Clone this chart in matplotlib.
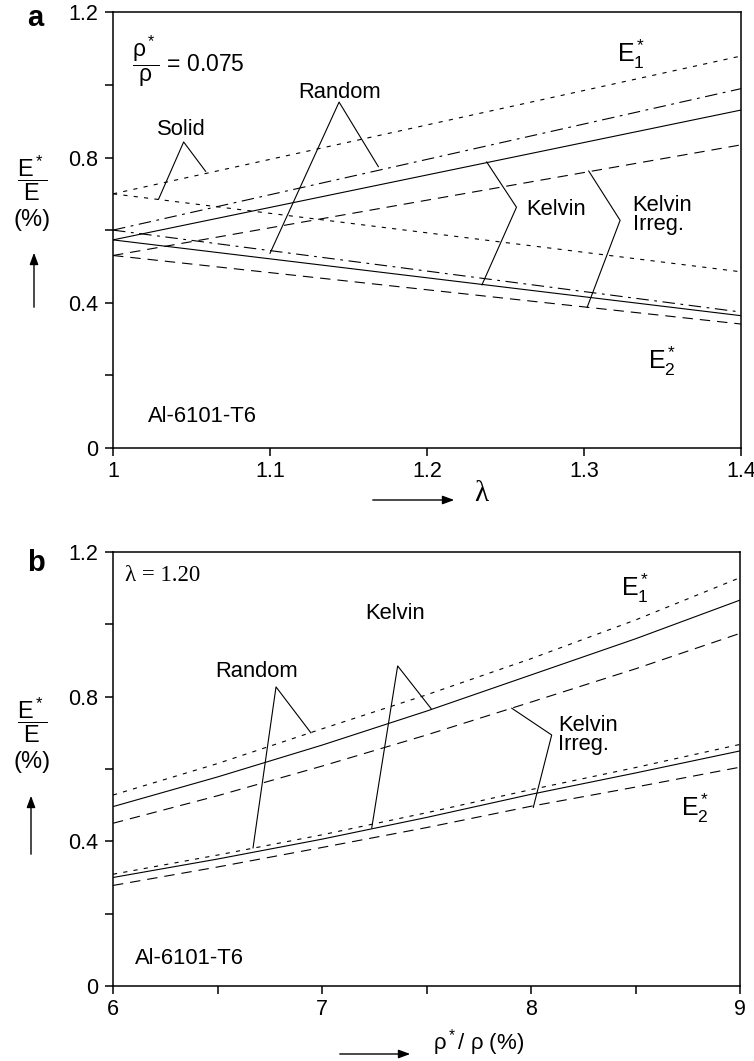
"""
Moduli E1*, E2* of Al-6101-T6 foams: (a) vs anisotropy, (b) vs relative density
"""
import matplotlib
matplotlib.use("Agg")
import matplotlib.pyplot as plt
from matplotlib.ticker import FixedLocator, FixedFormatter

plt.rcParams['font.family'] = ['Liberation Sans', 'DejaVu Sans']
plt.rcParams['mathtext.fontset'] = 'custom'
plt.rcParams['mathtext.rm'] = 'Liberation Sans'
plt.rcParams['mathtext.it'] = 'Liberation Sans'
plt.rcParams['lines.scale_dashes'] = False

W, H = 754, 1061

# panel a: moduli vs anisotropy ratio lambda (rho*/rho = 0.075)
lam = [1.0, 1.4]
solid_e1 = [0.70, 1.08]
solid_e2 = [0.70, 0.485]
random_e1 = [0.60, 0.99]
random_e2 = [0.60, 0.374]
kelvin_e1 = [0.573, 0.931]
kelvin_e2 = [0.573, 0.364]
irreg_e1 = [0.530, 0.835]
irreg_e2 = [0.530, 0.341]

# panel b: moduli vs relative density (lambda = 1.20)
rel_density = [6, 6.5, 7, 7.5, 8, 8.5, 9]
b_random_e1 = [0.528, 0.615, 0.711, 0.805, 0.905, 1.012, 1.129]
b_kelvin_e1 = [0.496, 0.578, 0.666, 0.760, 0.860, 0.960, 1.067]
b_irreg_e1 = [0.450, 0.526, 0.608, 0.694, 0.785, 0.877, 0.975]
b_random_e2 = [0.309, 0.362, 0.418, 0.479, 0.543, 0.604, 0.668]
b_kelvin_e2 = [0.300, 0.351, 0.406, 0.466, 0.530, 0.589, 0.650]
b_irreg_e2 = [0.278, 0.329, 0.383, 0.438, 0.497, 0.550, 0.605]

y_ticks = [0, 0.2, 0.4, 0.6, 0.8, 1.0, 1.2]
y_labels = ['0', '', '0.4', '', '0.8', '', '1.2']
a_xticks = [1.0, 1.1, 1.2, 1.3, 1.4]
a_xlabels = ['1', '1.1', '1.2', '1.3', '1.4']
b_xticks = [6, 6.5, 7, 7.5, 8, 8.5, 9]
b_xlabels = ['6', '', '7', '', '8', '', '9']

# leader lines (data coords of the callout polylines)
a_solid_lead = ([1.029, 1.045, 1.059], [0.685, 0.843, 0.762])
a_random_lead = ([1.100, 1.144, 1.169], [0.536, 0.953, 0.775])
a_kelvin_lead = ([1.238, 1.257, 1.235], [0.788, 0.663, 0.449])
a_irreg_lead = ([1.303, 1.323, 1.302], [0.763, 0.627, 0.387])
b_random_lead = ([6.670, 6.780, 6.947], [0.382, 0.827, 0.700])
b_kelvin_lead = ([7.238, 7.362, 7.522], [0.437, 0.885, 0.767])
b_irreg_lead = ([7.908, 8.099, 8.011], [0.768, 0.694, 0.494])

DOT = (0, (3, 4.5))
DASHDOT = (0, (9, 4, 2, 4))
DASH = (0, (7.5, 5))
LW = 0.8
FS = 15.8      # annotation text
TFS = 15.5     # tick labels
EFS = 18       # E1*, E2* labels


def fx(px):
    return px / W


def fy(py):
    return 1 - py / H


def style_axes(ax, xticks, xlabels, xlim):
    ax.set_xlim(*xlim)
    ax.set_ylim(0, 1.2)
    ax.xaxis.set_major_locator(FixedLocator(xticks))
    ax.xaxis.set_major_formatter(FixedFormatter(xlabels))
    ax.yaxis.set_major_locator(FixedLocator(y_ticks))
    ax.yaxis.set_major_formatter(FixedFormatter(y_labels))
    ax.tick_params(direction='out', length=5.5, width=1.1, labelsize=TFS)
    ax.tick_params(axis='y', pad=5)
    ax.tick_params(axis='x', pad=4)
    for s in ax.spines.values():
        s.set_linewidth(1.1)


def ylabel(cy):
    fig.text(fx(32), fy(cy), r'$\dfrac{\mathrm{E}^*}{\mathrm{E}}$', ha='center',
             va='center', fontsize=17)
    fig.text(fx(32), fy(cy + 42), '(%)', ha='center', va='center', fontsize=17)


def arrow(x0, y0, x1, y1):
    fig.add_artist(matplotlib.patches.FancyArrowPatch(
        (fx(x0), fy(y0)), (fx(x1), fy(y1)), transform=fig.transFigure,
        arrowstyle='-|>,head_length=7,head_width=2.6', lw=1.0, color='k'))


fig = plt.figure(figsize=(W / 100, H / 100), dpi=100)

# ---------------- panel a ----------------
ax = fig.add_axes([fx(113), fy(447.7), 628 / W, 435.2 / H])
ax.plot(lam, solid_e1, 'k', ls=DOT, lw=LW)
ax.plot(lam, solid_e2, 'k', ls=DOT, lw=LW)
ax.plot(lam, random_e1, 'k', ls=DASHDOT, lw=LW)
ax.plot(lam, random_e2, 'k', ls=DASHDOT, lw=LW)
ax.plot(lam, kelvin_e1, 'k', ls='-', lw=LW)
ax.plot(lam, kelvin_e2, 'k', ls='-', lw=LW)
ax.plot(lam, irreg_e1, 'k', ls=DASH, lw=LW)
ax.plot(lam, irreg_e2, 'k', ls=DASH, lw=LW)
for xs, ys in (a_solid_lead, a_random_lead, a_kelvin_lead, a_irreg_lead):
    ax.plot(xs, ys, 'k', lw=LW)
style_axes(ax, a_xticks, a_xlabels, (1.0, 1.4))

ax.text(1.0435, 0.878, 'Solid', ha='center', va='center', fontsize=FS)
ax.text(1.1446, 0.980, 'Random', ha='center', va='center', fontsize=FS)
ax.text(1.263, 0.658, 'Kelvin', ha='left', va='center', fontsize=FS)
ax.text(1.331, 0.642, 'Kelvin\nIrreg.', ha='left', va='center', fontsize=FS,
        linespacing=0.9)
ax.text(1.321, 1.085, r'$\mathrm{E}_1^*$', ha='left', va='center', fontsize=EFS)
ax.text(1.341, 0.237, r'$\mathrm{E}_2^*$', ha='left', va='center', fontsize=EFS)
ax.text(1.022, 0.085, 'Al-6101-T6', ha='left', va='center', fontsize=FS)
ax.text(1.012, 1.066, r'$\dfrac{\mathrm{\rho}^*}{\mathrm{\rho}}$ = 0.075',
        ha='left', va='center', fontsize=16.5)

fig.text(fx(35), fy(18), 'a', ha='center', va='center', fontsize=21,
         fontweight='bold')
ylabel(178)
arrow(34, 310, 34, 250)
arrow(370, 500, 457, 500)
fig.text(fx(481), fy(494), 'λ', ha='center', va='center', fontsize=21,
         family='Liberation Serif')

# ---------------- panel b ----------------
ax = fig.add_axes([fx(113), fy(986), 627 / W, 434 / H])
ax.plot(rel_density, b_random_e1, 'k', ls=DOT, lw=LW)
ax.plot(rel_density, b_kelvin_e1, 'k', ls='-', lw=LW)
ax.plot(rel_density, b_irreg_e1, 'k', ls=DASH, lw=LW)
ax.plot(rel_density, b_random_e2, 'k', ls=DOT, lw=LW)
ax.plot(rel_density, b_kelvin_e2, 'k', ls='-', lw=LW)
ax.plot(rel_density, b_irreg_e2, 'k', ls=DASH, lw=LW)
for xs, ys in (b_random_lead, b_kelvin_lead, b_irreg_lead):
    ax.plot(xs, ys, 'k', lw=LW)
style_axes(ax, b_xticks, b_xlabels, (6, 9))

ax.text(6.689, 0.870, 'Random', ha='center', va='center', fontsize=FS)
ax.text(7.349, 1.031, 'Kelvin', ha='center', va='center', fontsize=FS)
ax.text(8.13, 0.694, 'Kelvin\nIrreg.', ha='left', va='center', fontsize=FS,
        linespacing=0.9)
ax.text(8.43, 1.10, r'$\mathrm{E}_1^*$', ha='left', va='center', fontsize=EFS)
ax.text(8.72, 0.49, r'$\mathrm{E}_2^*$', ha='left', va='center', fontsize=EFS)
ax.text(6.105, 0.077, 'Al-6101-T6', ha='left', va='center', fontsize=FS)
ax.text(6.057, 1.136, 'λ = 1.20', ha='left', va='center', fontsize=16.5,
        family='Liberation Serif')

fig.text(fx(36), fy(563), 'b', ha='center', va='center', fontsize=21,
         fontweight='bold')
ylabel(720)
arrow(31, 857, 31, 793)
arrow(337, 1054, 413, 1054)
fig.text(fx(479), fy(1043), r'ρ$^*$/ ρ (%)', ha='center', va='center',
         fontsize=16)

fig.savefig('out.png', dpi=100)
